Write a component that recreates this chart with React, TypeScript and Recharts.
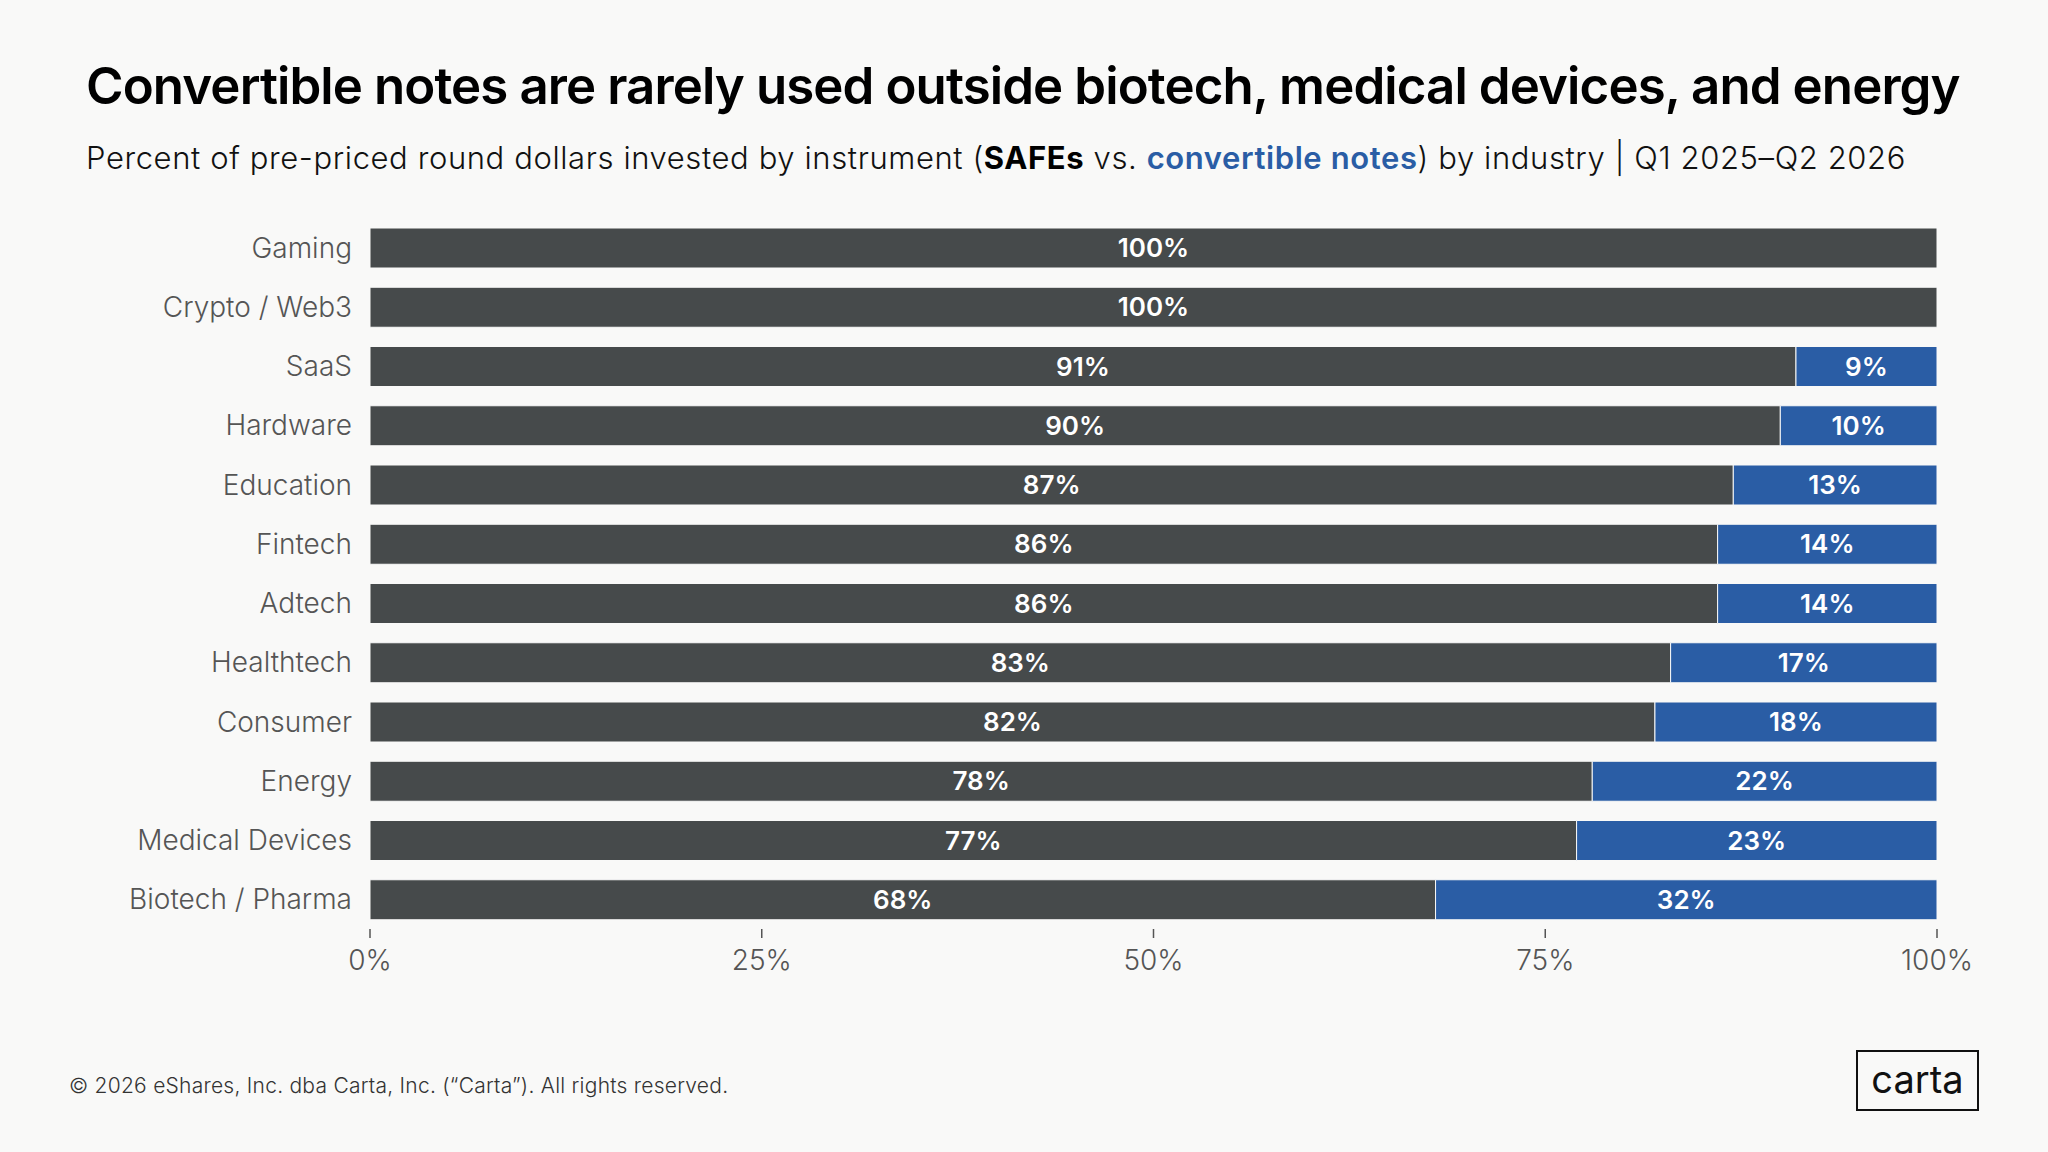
import { Bar, BarChart, LabelList, XAxis, YAxis } from "recharts";

const industries = [
  "Gaming",
  "Crypto / Web3",
  "SaaS",
  "Hardware",
  "Education",
  "Fintech",
  "Adtech",
  "Healthtech",
  "Consumer",
  "Energy",
  "Medical Devices",
  "Biotech / Pharma",
];
const safeShare = [100, 100, 91, 90, 87, 86, 86, 83, 82, 78, 77, 68];
const noteShare = [0, 0, 9, 10, 13, 14, 14, 17, 18, 22, 23, 32];
const xTicks = [0, 25, 50, 75, 100];

const BG = "#f9f9f8";
const DARK = "#464a4b";
const BLUE = "#2a5da5";
const FONT = "Inter, 'Noto Sans', sans-serif";

const chartData = industries.map((name, i) => ({
  name,
  safe: safeShare[i],
  note: noteShare[i],
}));

const pct = (v: any) => (v ? `${v}%` : "");

export default function App() {
  return (
    <div
      style={{
        position: "absolute",
        left: 0,
        top: 0,
        width: 2048,
        height: 1152,
        background: BG,
        fontFamily: FONT,
        overflow: "hidden",
      }}
    >
      <div
        style={{
          position: "absolute",
          left: 86,
          top: 60,
          fontSize: 51,
          lineHeight: "51px",
          fontWeight: 600,
          letterSpacing: -0.9,
          color: "#000",
          whiteSpace: "nowrap",
        }}
      >
        Convertible notes are rarely used outside biotech, medical devices, and energy
      </div>
      <div
        style={{
          position: "absolute",
          left: 86,
          top: 142,
          fontSize: 31,
          lineHeight: "31px",
          fontWeight: 300,
          letterSpacing: 0.6,
          color: "#111",
          whiteSpace: "nowrap",
        }}
      >
        Percent of pre-priced round dollars invested by instrument (
        <span style={{ fontWeight: 700, color: "#000" }}>SAFEs</span> vs.{" "}
        <span style={{ fontWeight: 600, color: BLUE }}>convertible notes</span>) by industry | Q1 2025–Q2 2026
      </div>

      <div style={{ position: "absolute", left: 0, top: 0 }}>
        <BarChart
          width={2048}
          height={1000}
          data={chartData}
          layout="vertical"
          margin={{ top: 218, right: 111, bottom: 11, left: 0 }}
          barSize={40}
        >
          <XAxis
            type="number"
            domain={[0, 100]}
            ticks={xTicks}
            tickFormatter={(v) => `${v}%`}
            axisLine={false}
            tickLine={{ stroke: "#555", strokeWidth: 1.5 }}
            tickSize={9}
            tickMargin={12}
            height={60}
            tick={{ fontSize: 28, fill: "#555", fontFamily: FONT, fontWeight: 300 }}
          />
          <YAxis
            type="category"
            dataKey="name"
            width={370}
            axisLine={false}
            tickLine={false}
            tickSize={0}
            tickMargin={18}
            interval={0}
            tick={{ fontSize: 28, fill: "#555", fontFamily: FONT, fontWeight: 300 }}
          />
          <Bar dataKey="safe" stackId="a" fill={DARK} stroke={BG} strokeWidth={1} isAnimationActive={false}>
            <LabelList
              dataKey="safe"
              position="center"
              formatter={pct}
              fill="#fff"
              fontSize={26}
              fontWeight={600}
              fontFamily={FONT}
            />
          </Bar>
          <Bar dataKey="note" stackId="a" fill={BLUE} stroke={BG} strokeWidth={1} isAnimationActive={false}>
            <LabelList
              dataKey="note"
              position="center"
              formatter={pct}
              fill="#fff"
              fontSize={26}
              fontWeight={600}
              fontFamily={FONT}
            />
          </Bar>
        </BarChart>
      </div>

      <div
        style={{
          position: "absolute",
          left: 69,
          top: 1075,
          fontSize: 21,
          lineHeight: "21px",
          fontWeight: 300,
          letterSpacing: 0.25,
          color: "#333",
          whiteSpace: "nowrap",
        }}
      >
        © 2026 eShares, Inc. dba Carta, Inc. (“Carta”). All rights reserved.
      </div>
      <div
        style={{
          position: "absolute",
          left: 1856,
          top: 1050,
          width: 123,
          height: 61,
          border: "2px solid #111",
          display: "flex",
          alignItems: "center",
          justifyContent: "center",
          fontSize: 38,
          fontWeight: 400,
          color: "#111",
          paddingBottom: 4,
          boxSizing: "border-box",
        }}
      >
        carta
      </div>
    </div>
  );
}
